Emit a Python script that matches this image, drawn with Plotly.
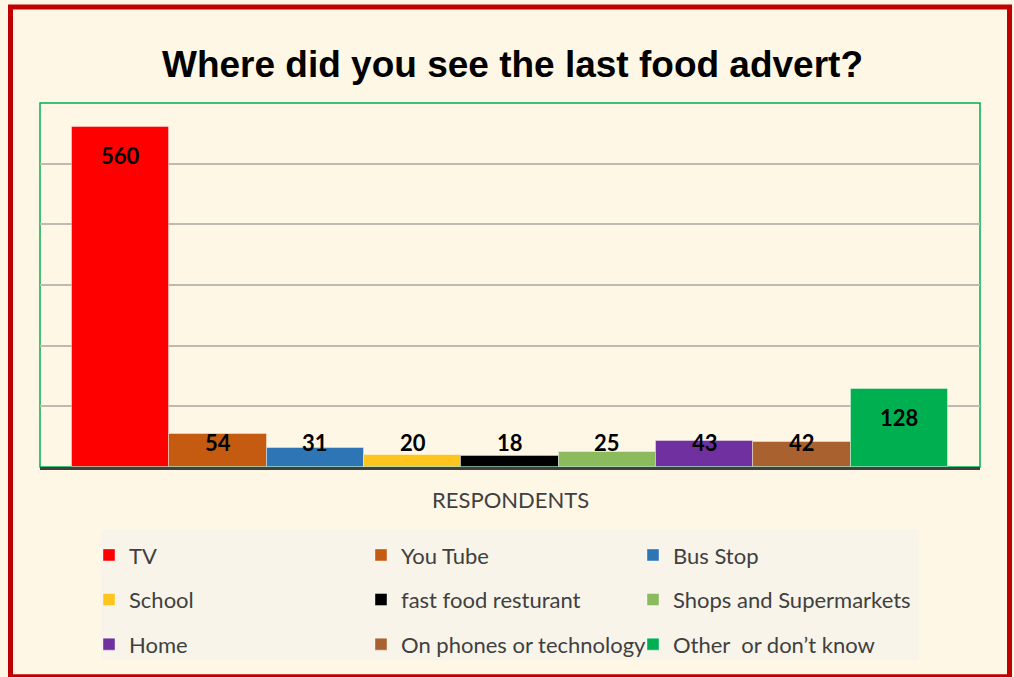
import plotly.graph_objects as go

# Survey answers: where respondents last saw a food advert
categories = ["TV", "You Tube", "Bus Stop", "School", "fast food resturant",
              "Shops and Supermarkets", "Home", "On phones or technology",
              "Other  or don\u2019t know"]
respondents = [560, 54, 31, 20, 18, 25, 43, 42, 128]
colors = ["#FF0000", "#C55A11", "#2E75B6", "#FFC51F", "#000000",
          "#8CBB5E", "#7030A0", "#A9612F", "#00B050"]
axis_label = "RESPONDENTS"
title_text = "Where did you see the last food advert?"

W, H = 1014, 677
ML, MR, MT, MB = 40, 34, 103, 208
PW, PH = W - ML - MR, H - MT - MB

def px_x(px):
    return (px - ML) / PW

def px_y(py):
    return (H - MB - py) / PH

BODY_FONT = "Lato"
fig = go.Figure()

legend_names = ["legend", "legend2", "legend3"]
for i, (name, val, col) in enumerate(zip(categories, respondents, colors)):
    fig.add_trace(go.Bar(
        x=[i], y=[val], width=1, name=name,
        marker=dict(color=col, line=dict(color="rgba(255,255,255,0.4)", width=1)),
        legend=legend_names[i % 3], legendgroup=name,
        hoverinfo="name+y",
    ))
    # value label just inside the top of the bar, kept above the baseline
    fig.add_annotation(
        x=i, y=max(val - 46, 40), xref="x", yref="y",
        text=f"<b>{val}</b>", showarrow=False, yanchor="middle",
        font=dict(family=BODY_FONT, size=22, color="#000000"),
    )

fig.add_annotation(
    x=4, y=0, xref="x", yref="y", text=axis_label, showarrow=False,
    yanchor="top", yshift=-17,
    font=dict(family=BODY_FONT, size=22, color="#404040"),
)

shapes = [
    # legend panel
    dict(type="rect", xref="paper", yref="paper",
         x0=px_x(101), x1=px_x(919), y0=px_y(663), y1=px_y(532),
         fillcolor="#F8F4E9", line=dict(width=0), layer="below"),
    # plot area frame
    dict(type="rect", xref="paper", yref="paper", x0=0, x1=1, y0=0, y1=1,
         line=dict(color="#00B050", width=1.5), layer="below"),
    # outer chart frame
    dict(type="rect", xref="paper", yref="paper",
         x0=px_x(10.5), x1=px_x(1009.5), y0=px_y(680), y1=px_y(6.5),
         line=dict(color="#C00000", width=5)),
]

legend_common = dict(
    orientation="v", xanchor="left", yanchor="top",
    xref="paper", yref="paper", bgcolor="rgba(0,0,0,0)",
    font=dict(family=BODY_FONT, size=22, color="#404040"),
    tracegroupgap=13, itemwidth=30,
)
legend_cols = [89, 361, 633]
legend_top = 536.5

fig.update_layout(
    width=W, height=H,
    margin=dict(l=ML, r=MR, t=MT, b=MB),
    paper_bgcolor="#FFF7E6", plot_bgcolor="#FFF7E6",
    title=dict(text=f"<b>{title_text}</b>", x=512.5 / W, xanchor="center",
               xref="container", yref="container", y=1 - 64.5 / H,
               yanchor="middle",
               font=dict(family="Liberation Sans", size=37, color="#000000")),
    barmode="overlay", bargap=0,
    xaxis=dict(range=[-0.5 - 32 / 97.3, 8.5 + 32 / 97.3], showticklabels=False,
               showgrid=False, zeroline=False, showline=True,
               linecolor="#404040", linewidth=3, ticks="", fixedrange=True),
    yaxis=dict(range=[0, 600], dtick=100, showticklabels=False,
               gridcolor="#BDBAB2", gridwidth=1.5, zeroline=False,
               showline=False, ticks="", fixedrange=True),
    shapes=shapes,
    legend=dict(legend_common, x=px_x(legend_cols[0]), y=px_y(legend_top)),
    legend2=dict(legend_common, x=px_x(legend_cols[1]), y=px_y(legend_top)),
    legend3=dict(legend_common, x=px_x(legend_cols[2]), y=px_y(legend_top)),
    showlegend=True,
)

fig.write_html("out.html")
